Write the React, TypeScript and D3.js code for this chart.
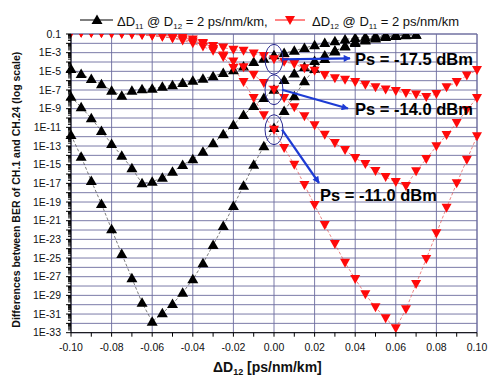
import React from 'react'
import * as d3 from 'd3'

// ΔD values on the x axis [ps/nm/km]
const DELTA_D = [
  -0.1, -0.095, -0.09, -0.085, -0.08, -0.075, -0.07, -0.065, -0.06, -0.055, -0.05,
  -0.045, -0.04, -0.035, -0.03, -0.025, -0.02, -0.015, -0.01, -0.005, 0,
  0.005, 0.01, 0.015, 0.02, 0.025, 0.03, 0.035, 0.04, 0.045, 0.05,
  0.055, 0.06, 0.065, 0.07, 0.075, 0.08, 0.085, 0.09, 0.095, 0.1,
]

// log10 of the BER difference (null = off the chart)
const DD11_PS175 = [
  -4.75, -5.29, -5.82, -6.39, -7.07, -7.61, -7.07, -6.92, -6.86, -6.65, -6.5,
  -6.25, -6.0, -5.79, -5.53, -5.18, -4.89, -4.48, -4.0, -3.65, -3.28,
  -3.04, -2.79, -2.5, -2.21, -1.96, -1.78, -1.59, -1.43, -1.32, -1.21,
  -1.14, -1.11, -1.07, null, null, null, null, null, null, null,
]
const DD11_PS140 = [
  -7.72, -8.85, -10.03, -11.39, -12.78, -14.04, -15.39, -17.0, -16.82, -16.4, -15.75,
  -15.03, -14.42, -13.61, -12.71, -11.75, -10.75, -9.68, -8.71, -7.86, -6.97,
  -5.93, -5.23, -4.54, -3.89, -3.3, -2.77, -2.34, -1.96, -1.7, -1.48,
  -1.32, -1.21, -1.14, -1.09, null, null, null, null, null, null,
]
const DD11_PS110 = [
  -11.82, -14.15, -16.75, -19.21, -21.92, -24.57, -27.17, -29.79, -31.82, -30.92, -29.93,
  -28.72, -27.28, -25.57, -23.61, -21.57, -19.43, -17.25, -15.0, -13.03, -11.07,
  -9.25, -7.67, -6.07, -4.75, -3.68, -2.87, -2.29, -1.86, -1.59, -1.37,
  -1.25, -1.16, -1.11, -1.07, null, null, null, null, null, null,
]
const DD12_PS175 = [
  -0.85, -0.87, -0.9, -0.93, -0.97, -1.0, -1.05, -1.12, -1.2, -1.3, -1.42,
  -1.57, -1.8, -2.05, -2.28, -2.45, -2.68, -2.8, -3.1, -3.35, -3.71,
  -3.97, -4.21, -4.67, -4.93, -5.39, -5.75, -5.9, -6.14, -6.43, -6.71,
  -6.95, -7.11, -7.32, -7.48, -7.75, -7.43, -6.71, -6.14, -5.45, -4.86,
]
const DD12_PS140 = [
  -0.85, -0.85, -0.85, -0.85, -0.85, -0.92, -0.97, -1.05, -1.15, -1.28, -1.45,
  -1.7, -2.0, -2.35, -2.8, -3.3, -3.95, -4.57, -5.36, -6.25, -6.97,
  -7.86, -8.85, -9.82, -10.78, -11.79, -12.68, -13.43, -14.28, -14.93, -15.68,
  -16.32, -16.86, -17.28, -15.71, -14.39, -13.03, -11.82, -10.53, -9.14, -7.86,
]
const DD12_PS110 = [
  -0.85, -0.85, -0.87, -0.9, -0.92, -0.95, -0.98, -1.02, -1.07, -1.13, -1.21,
  -1.37, -1.59, -1.96, -2.61, -3.46, -4.64, -6.14, -7.86, -9.71, -11.25,
  -13.21, -15.0, -17.18, -19.32, -21.46, -23.5, -25.5, -27.25, -28.89, -30.28,
  -31.46, -32.53, -30.49, -27.78, -25.1, -22.35, -19.61, -17.0, -14.47, -11.96,
]

const X_TICKS = [-0.1, -0.08, -0.06, -0.04, -0.02, 0, 0.02, 0.04, 0.06, 0.08, 0.1]
const X_TICK_LABELS = ['-0.10', '-0.08', '-0.06', '-0.04', '-0.02', '0.00', '0.02', '0.04', '0.06', '0.08', '0.10']
const Y_TICK_EXPS = [-1, -3, -5, -7, -9, -11, -13, -15, -17, -19, -21, -23, -25, -27, -29, -31, -33]
const Y_TICK_LABELS = ['0.1', '1E-3', '1E-5', '1E-7', '1E-9', '1E-11', '1E-13', '1E-15', '1E-17', '1E-19', '1E-21', '1E-23', '1E-25', '1E-27', '1E-29', '1E-31', '1E-33']
const POWER_LABELS = ['Ps = -17.5 dBm', 'Ps = -14.0 dBm', 'Ps = -11.0 dBm']

const UP = 'M0,-5.5L5.5,4L-5.5,4Z'
const DOWN = 'M0,5L5,-4L-5,-4Z'
const FONT = 'Liberation Sans, Arial, Helvetica, sans-serif'
const GRID = '#6c6c9e'
const RED = '#ff0a0a'

export default function App() {
  const W = 490
  const H = 379
  const left = 71
  const right = 477
  const top = 34
  const bottom = 332.7

  const x = d3.scaleLinear().domain([-0.1, 0.1]).range([left, right])
  const y = d3.scaleLog().domain([1e-33, 0.1]).range([bottom, top])

  const toPts = (arr) => DELTA_D.map((d, i) => ({ d, v: arr[i] == null ? null : Math.pow(10, arr[i]) }))
  const series = [
    { pts: toPts(DD11_PS175), color: '#000', line: '#444', shape: UP },
    { pts: toPts(DD11_PS140), color: '#000', line: '#444', shape: UP },
    { pts: toPts(DD11_PS110), color: '#000', line: '#444', shape: UP },
    { pts: toPts(DD12_PS175), color: RED, line: '#e25050', shape: DOWN },
    { pts: toPts(DD12_PS140), color: RED, line: '#e25050', shape: DOWN },
    { pts: toPts(DD12_PS110), color: RED, line: '#e25050', shape: DOWN },
  ]
  const line = d3
    .line()
    .defined((p) => p.v != null)
    .x((p) => x(p.d))
    .y((p) => y(p.v))

  const decades = d3.range(-1, -34, -1)
  const minor = []
  decades.forEach((e) => {
    if (e === -1) return
    for (let k = 2; k <= 9; k++) minor.push(k * Math.pow(10, e))
  })
  const xMinor = d3.range(-0.1, 0.1001, 0.01)

  // circled points at ΔD = 0 on the red curves
  const i0 = DELTA_D.indexOf(0)
  const circled = [DD12_PS175, DD12_PS140, DD12_PS110].map((a) => y(Math.pow(10, a[i0])))
  const cx = x(0)
  const labels = [
    { tx: 355, ty: 64.5, ax: 350, ay: 58.3 },
    { tx: 355, ty: 115, ax: 348, ay: 108.5 },
    { tx: 320, ty: 200.5, ax: 319, ay: 183 },
  ]

  return (
    <svg width={W} height={H} style={{ position: 'absolute', left: 0, top: 0, background: '#fff' }} fontFamily={FONT}>
      <defs>
        <clipPath id="plotclip">
          <rect x={0} y={top} width={W} height={bottom - top + 1} />
        </clipPath>
        <marker id="arrow" viewBox="0 0 10 10" refX="9" refY="5" markerWidth="9" markerHeight="7" markerUnits="userSpaceOnUse" orient="auto">
          <path d="M0,0L10,5L0,10Z" fill="#1d3bd4" />
        </marker>
      </defs>

      {/* grid */}
      {decades.map((e) => (
        <line key={'h' + e} x1={left} x2={right} y1={y(Math.pow(10, e))} y2={y(Math.pow(10, e))} stroke={GRID} strokeWidth={0.9} />
      ))}
      {X_TICKS.map((t) => (
        <line key={'v' + t} x1={x(t)} x2={x(t)} y1={top} y2={bottom} stroke={GRID} strokeWidth={0.9} />
      ))}
      <line x1={left} x2={right} y1={top} y2={top} stroke={GRID} strokeWidth={1} />
      <line x1={right} x2={right} y1={top} y2={bottom} stroke={GRID} strokeWidth={1} />

      {/* series */}
      <g clipPath="url(#plotclip)">
        {series.map((s, si) => (
          <g key={si}>
            <path d={line(s.pts)} fill="none" stroke={s.line} strokeWidth={0.7} strokeDasharray="3,2" />
            {s.pts
              .filter((p) => p.v != null)
              .map((p, i) => (
                <path key={i} d={s.shape} transform={`translate(${x(p.d)},${y(p.v)})`} fill={s.color} />
              ))}
          </g>
        ))}
      </g>

      {/* axes */}
      <line x1={left} x2={left} y1={top} y2={bottom} stroke="#000" strokeWidth={1} />
      <line x1={left} x2={right} y1={bottom} y2={bottom} stroke="#000" strokeWidth={1} />
      {minor.map((v, i) => (
        <line key={'m' + i} x1={left - 3} x2={left} y1={y(v)} y2={y(v)} stroke="#000" strokeWidth={0.9} />
      ))}
      {decades.map((e) => (
        <line key={'d' + e} x1={left - 5} x2={left} y1={y(Math.pow(10, e))} y2={y(Math.pow(10, e))} stroke="#000" strokeWidth={1} />
      ))}
      {Y_TICK_EXPS.map((e, i) => (
        <text key={'yl' + e} x={left - 10} y={y(Math.pow(10, e))} dy="0.36em" textAnchor="end" fontSize={10.5} fill="#111">
          {Y_TICK_LABELS[i]}
        </text>
      ))}
      {xMinor.map((t, i) => (
        <line key={'xm' + i} x1={x(t)} x2={x(t)} y1={bottom} y2={bottom + 4} stroke="#000" strokeWidth={1} />
      ))}
      {X_TICKS.map((t, i) => (
        <text key={'xl' + i} x={x(t)} y={350.5} textAnchor="middle" fontSize={10.5} fill="#111">
          {X_TICK_LABELS[i]}
        </text>
      ))}

      {/* axis titles */}
      <text transform="translate(20,189.7) rotate(-90)" textAnchor="middle" fontSize={10.5} fontWeight="bold" fill="#111">
        Differences between BER of CH.1 and CH.24 (log scale)
      </text>
      <text x={213} y={372} fontSize={14} fontWeight="bold" fill="#111">
        ΔD<tspan fontSize={9} dy={3}>12</tspan>
        <tspan dy={-3}> [ps/nm/km]</tspan>
      </text>

      {/* legend */}
      <line x1={80} x2={113} y1={20} y2={20} stroke="#000" strokeWidth={1} />
      <path d={UP} transform="translate(97,20)" fill="#000" />
      <text x={117} y={25.5} fontSize={13} fill="#111">
        ΔD<tspan fontSize={8} dy={3}>11</tspan>
        <tspan dy={-3}> @ D</tspan>
        <tspan fontSize={8} dy={3}>12</tspan>
        <tspan dy={-3}> = 2 ps/nm/km,</tspan>
      </text>
      <line x1={275} x2={305} y1={20} y2={20} stroke={RED} strokeWidth={1} />
      <path d={DOWN} transform="translate(290,20)" fill={RED} />
      <text x={312} y={25.5} fontSize={13} fill="#111">
        ΔD<tspan fontSize={8} dy={3}>12</tspan>
        <tspan dy={-3}> @ D</tspan>
        <tspan fontSize={8} dy={3}>11</tspan>
        <tspan dy={-3}> = 2 ps/nm/km</tspan>
      </text>

      {/* annotations */}
      {circled.map((cy, i) => (
        <g key={'a' + i}>
          <ellipse cx={cx} cy={cy} rx={9} ry={15} fill="none" stroke="#2b2b92" strokeWidth={1} />
          <line x1={cx + 8} y1={cy} x2={labels[i].ax} y2={labels[i].ay} stroke="#1d3bd4" strokeWidth={2.2} markerEnd="url(#arrow)" />
          <text x={labels[i].tx} y={labels[i].ty} fontSize={16.5} fontWeight="bold" fill="#000">
            {POWER_LABELS[i]}
          </text>
        </g>
      ))}
    </svg>
  )
}
